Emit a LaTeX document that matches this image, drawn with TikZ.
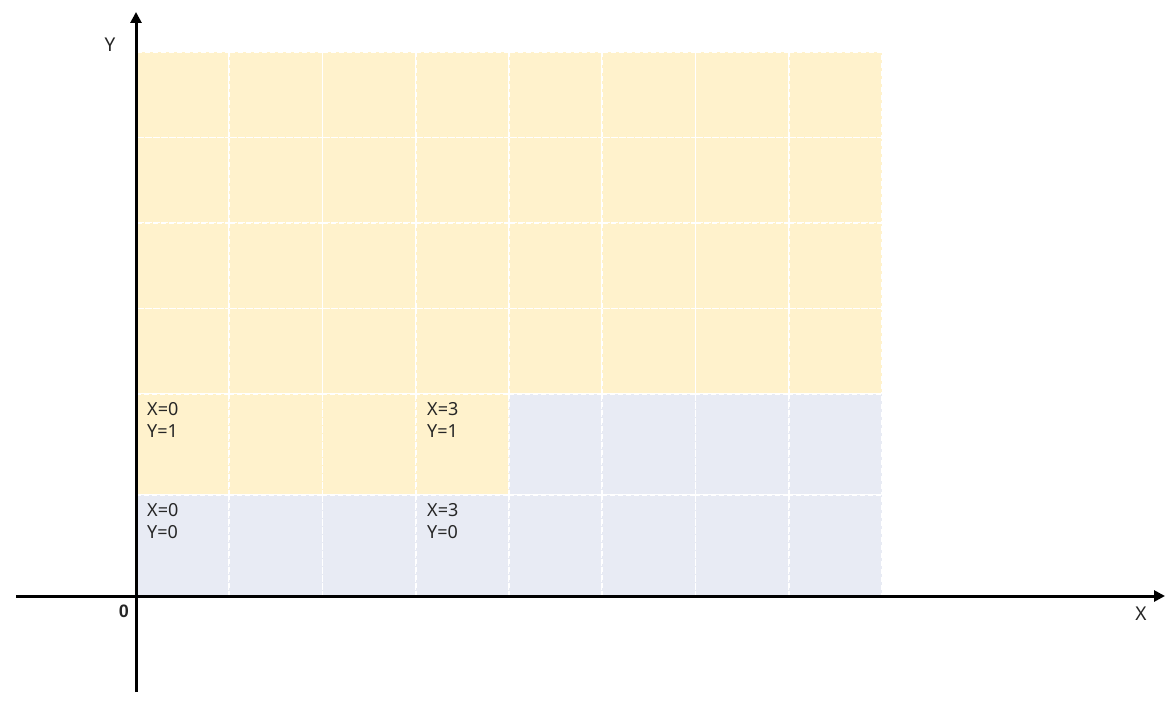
\documentclass[tikz,border=0pt]{standalone}
\usepackage{fontspec}
\setmainfont{Noto Sans}
\newfontfamily\zerofont{Liberation Sans}
\usetikzlibrary{arrows.meta}
\definecolor{cellyellow}{HTML}{FFF2CC}
\definecolor{cellblue}{HTML}{E8EBF4}
\definecolor{txt}{HTML}{262626}
\tikzset{
  cell/.style={draw=white, dash pattern=on 5pt off 3pt, line width=1.6pt},
  axis/.style={line width=3pt, -{Triangle[length=11pt,width=11pt]}},
  lbl/.style={font=\fontsize{18}{22}\selectfont, text=txt, align=left, anchor=north west, inner sep=0pt},
  axlbl/.style={font=\fontsize{19}{20}\selectfont, text=txt, inner sep=0pt}
}
\begin{document}
\begin{tikzpicture}[x=1pt,y=-1pt]
\useasboundingbox (0,0) rectangle (1175,709);
\fill[white] (0,0) rectangle (1175,709);
\def\colw{93.25}
\foreach \c in {0,...,7}{
  \foreach \r in {0,...,3}{
    \path[cell, fill=cellyellow] ({136+\c*\colw},{52+\r*85.5}) rectangle ({136+(\c+1)*\colw},{52+(\r+1)*85.5});
  }
}
\foreach \c in {0,...,3}{
  \path[cell, fill=cellyellow] ({136+\c*\colw},394) rectangle ({136+(\c+1)*\colw},495);
}
\foreach \c in {4,...,7}{
  \path[cell, fill=cellblue] ({136+\c*\colw},394) rectangle ({136+(\c+1)*\colw},495);
}
\foreach \c in {0,...,7}{
  \path[cell, fill=cellblue] ({136+\c*\colw},495) rectangle ({136+(\c+1)*\colw},596);
}
% labels
\node[lbl] (l01) at (147,402) {X=0\\Y=1};
\node[lbl] (l31) at (427,402) {X=3\\Y=1};
\node[lbl] (l00) at (147,503) {X=0\\Y=0};
\node[lbl] (l30) at (427,503) {X=3\\Y=0};
% axes
\coordinate (xs) at (16,596);
\coordinate (xe) at (1165,596);
\coordinate (ys) at (136,692);
\coordinate (ye) at (136,12);
\draw[axis] (xs) -- (xe);
\draw[axis] (ys) -- (ye);
\node[axlbl] (xl) at (1141,614) {X};
\node[axlbl] (yl) at (110,45) {Y};
\node[font=\zerofont\bfseries\fontsize{18}{20}\selectfont, text=txt, inner sep=0pt] (orig) at (124,611) {0};
\end{tikzpicture}
\end{document}
